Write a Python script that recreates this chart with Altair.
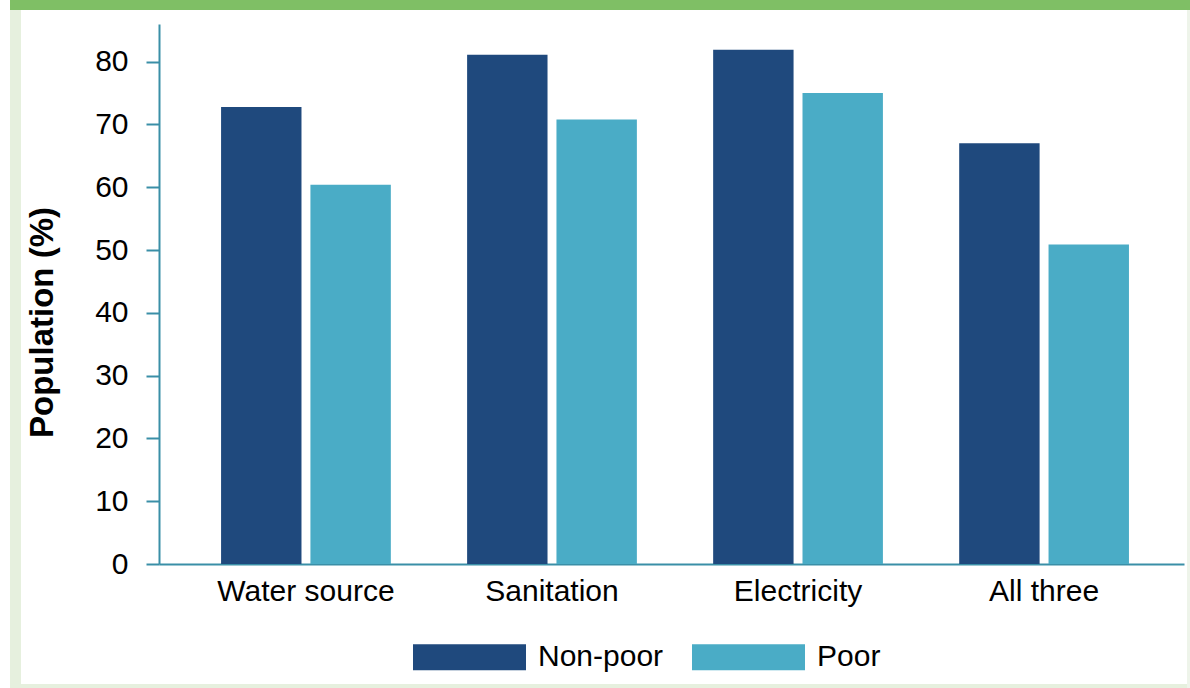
import altair as alt
import pandas as pd

# Share of population with access to each service, by poverty status
categories = ["Water source", "Sanitation", "Electricity", "All three"]
groups = ["Non-poor", "Poor"]
non_poor = [72.8, 81.1, 81.9, 67.0]
poor = [60.4, 70.8, 75.0, 50.9]
y_ticks = [0, 10, 20, 30, 40, 50, 60, 70, 80]

colors = ["#1f497d", "#4aacc6"]
axis_color = "#3a8fa7"
font = "Liberation Sans"

rows = []
for cat, a, b in zip(categories, non_poor, poor):
    rows.append({"Category": cat, "Group": groups[0], "Value": a})
    rows.append({"Category": cat, "Group": groups[1], "Value": b})
df = pd.DataFrame(rows)

W, H = 1025, 540
PAD_L, PAD_T = 159, 24
SWATCH = 113  # legend swatch width in px

bars = alt.Chart(df).mark_bar(stroke=None).encode(
    x=alt.X(
        "Category:N",
        sort=categories,
        scale=alt.Scale(paddingInner=0.31, paddingOuter=0.238, align=0.53),
        axis=alt.Axis(
            title=None,
            labelAngle=0,
            labelFontSize=30,
            labelFont=font,
            labelColor="#000000",
            labelPadding=12,
            ticks=False,
            domainColor=axis_color,
            domainWidth=2,
        ),
    ),
    xOffset=alt.XOffset(
        "Group:N", sort=groups, scale=alt.Scale(paddingInner=0.1, paddingOuter=0)
    ),
    y=alt.Y(
        "Value:Q",
        scale=alt.Scale(domain=[0, 86], nice=False, zero=True),
        axis=alt.Axis(
            title="Population (%)",
            values=y_ticks,
            grid=False,
            labelFontSize=30,
            labelFont=font,
            labelColor="#000000",
            labelPadding=18,
            tickSize=13,
            tickColor=axis_color,
            tickWidth=2,
            domainColor=axis_color,
            domainWidth=2,
            titleFont=font,
            titleFontSize=33,
            titleFontWeight="bold",
            titleColor="#000000",
            titleAngle=-90,
            titleX=-117,
            titleY=298,
            titleAlign="center",
            titleBaseline="middle",
        ),
    ),
    color=alt.Color(
        "Group:N",
        sort=groups,
        scale=alt.Scale(domain=groups, range=colors),
        legend=alt.Legend(
            title=None,
            orient="none",
            direction="horizontal",
            legendX=254,
            legendY=657 - PAD_T - SWATCH / 2,
            symbolType="M-1,-0.23L1,-0.23L1,0.23L-1,0.23Z",
            symbolSize=SWATCH * SWATCH,
            symbolStrokeWidth=0,
            symbolOpacity=1,
            labelFont=font,
            labelFontSize=30,
            labelColor="#000000",
            labelOffset=12,
            columnPadding=28,
        ),
    ),
)

one = alt.Data(values=[{}])


def strip(x0, x1, y0, y1, color):
    # page frame pieces, placed relative to the plot origin
    return alt.Chart(one).mark_rect(color=color, stroke=None).encode(
        x=alt.value(x0 - PAD_L),
        x2=alt.value(x1 - PAD_L),
        y=alt.value(y0 - PAD_T),
        y2=alt.value(y1 - PAD_T),
    )


frame_green = "#7fbf65"
frame_light = "#e6f0de"
frame = [
    strip(10, 1190, 0, 10, frame_green),
    strip(10, 21, 10, 688, frame_light),
    strip(10, 1190, 684, 688, frame_light),
    strip(1187, 1190, 10, 688, "#eef4ea"),
]

chart = alt.layer(*frame, bars).properties(
    width=W,
    height=H,
    padding={"left": PAD_L, "top": PAD_T, "right": 1190 - PAD_L - W, "bottom": 688 - PAD_T - H},
    autosize=alt.AutoSizeParams(type="none"),
    background="#ffffff",
).configure_view(stroke=None)

chart.save("out.html", embed_options={"renderer": "svg", "actions": False})
